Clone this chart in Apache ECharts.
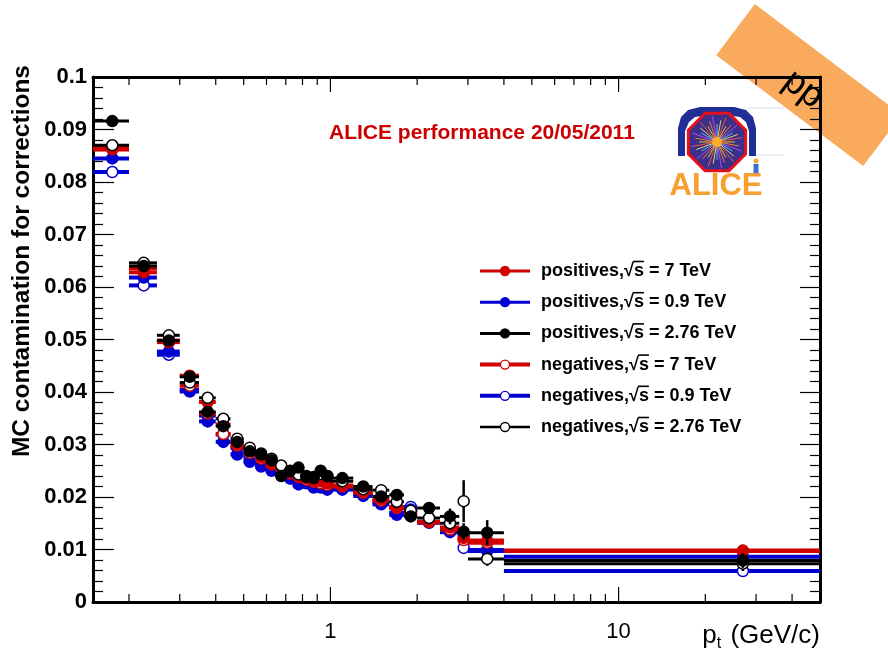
<!DOCTYPE html>
<html>
<head>
<meta charset="utf-8">
<script src="https://cdn.jsdelivr.net/npm/echarts@6/dist/echarts.min.js"></script>
<style>
html, body { margin: 0; padding: 0; background: #fff; }
#chart { width: 888px; height: 658px; }
</style>
</head>
<body>
<div id="chart"></div>
<script>
// pt binning (GeV/c): bin edges and the point placed at each bin centre
const binEdges = [0.15, 0.2, 0.25, 0.3, 0.35, 0.4, 0.45, 0.5, 0.55, 0.6, 0.65, 0.7, 0.75, 0.8,
  0.85, 0.9, 0.95, 1.0, 1.2, 1.4, 1.6, 1.8, 2.0, 2.4, 2.8, 3.0, 4.0, 50];
const ptCenters = [0.175, 0.225, 0.275, 0.325, 0.375, 0.425, 0.475, 0.525, 0.575, 0.625, 0.675,
  0.725, 0.775, 0.825, 0.875, 0.925, 0.975, 1.1, 1.3, 1.5, 1.7, 1.9, 2.2, 2.6, 2.9, 3.5, 27];

// MC contamination, positives and negatives, per collision energy
const pos7 = [0.0862, 0.0628, 0.0495, 0.0431, 0.0381, 0.0338, 0.0301, 0.0289, 0.0276, 0.0263, 0.0256,
  0.0247, 0.0240, 0.0236, 0.0231, 0.0230, 0.0226, 0.0222, 0.0210, 0.0196, 0.0181, 0.0170, 0.0153,
  0.0142, 0.0122, 0.0117, 0.0098];
const pos09 = [0.0845, 0.0618, 0.0477, 0.0401, 0.0344, 0.0305, 0.0281, 0.0267, 0.0258, 0.0250, 0.0246,
  0.0235, 0.0224, 0.0226, 0.0218, 0.0218, 0.0214, 0.0214, 0.0202, 0.0186, 0.0166, 0.0176, 0.0151,
  0.0133, 0.0128, 0.0097, 0.0086];
const pos276 = [0.0916, 0.0640, 0.0498, 0.0429, 0.0362, 0.0335, 0.0305, 0.0287, 0.0281, 0.0270, 0.0240,
  0.0250, 0.0256, 0.0240, 0.0238, 0.0250, 0.0240, 0.0236, 0.0220, 0.0201, 0.0204, 0.0163, 0.0179,
  0.0163, 0.0134, 0.0132, 0.0079];
const neg7 = [0.0865, 0.0636, 0.0498, 0.0412, 0.0359, 0.0320, 0.0298, 0.0284, 0.0273, 0.0262, 0.0254,
  0.0245, 0.0238, 0.0233, 0.0229, 0.0226, 0.0223, 0.0220, 0.0208, 0.0193, 0.0179, 0.0166, 0.0152,
  0.0138, 0.0118, 0.0113, 0.0097];
const neg09 = [0.0819, 0.0603, 0.0471, 0.0404, 0.0355, 0.0319, 0.0294, 0.0275, 0.0265, 0.0254, 0.0252,
  0.0240, 0.0233, 0.0229, 0.0233, 0.0222, 0.0223, 0.0218, 0.0206, 0.0190, 0.0170, 0.0181, 0.0152,
  0.0136, 0.0103, 0.0099, 0.0059];
const neg276 = [0.0870, 0.0646, 0.0508, 0.0418, 0.0389, 0.0349, 0.0311, 0.0294, 0.0283, 0.0273, 0.0260,
  0.0249, 0.0243, 0.0238, 0.0236, 0.0244, 0.0240, 0.0230, 0.0215, 0.0213, 0.0191, 0.0174, 0.0160,
  0.0150, 0.0192, 0.0082, 0.0073];

// statistical errors
const errPos7 = [0.0003, 0.0002, 0.0002, 0.0002, 0.0002, 0.0002, 0.0002, 0.0002, 0.0002, 0.0002, 0.0002,
  0.0002, 0.0002, 0.0002, 0.0002, 0.0002, 0.0002, 0.0002, 0.0002, 0.0003, 0.0003, 0.0003, 0.0003,
  0.0004, 0.0006, 0.0005, 0.0004];
const errPos09 = [0.0004, 0.0003, 0.0003, 0.0003, 0.0003, 0.0003, 0.0003, 0.0003, 0.0003, 0.0003, 0.0003,
  0.0003, 0.0003, 0.0003, 0.0003, 0.0003, 0.0003, 0.0003, 0.0003, 0.0004, 0.0004, 0.0005, 0.0005,
  0.0006, 0.0010, 0.0008, 0.0006];
const errPos276 = [0.0006, 0.0004, 0.0004, 0.0004, 0.0004, 0.0004, 0.0004, 0.0004, 0.0004, 0.0004, 0.0005,
  0.0005, 0.0005, 0.0005, 0.0005, 0.0008, 0.0006, 0.0005, 0.0006, 0.0006, 0.0008, 0.0010, 0.0009,
  0.0015, 0.0016, 0.0024, 0.0014];
const errNeg7 = [0.0003, 0.0002, 0.0002, 0.0002, 0.0002, 0.0002, 0.0002, 0.0002, 0.0002, 0.0002, 0.0002,
  0.0002, 0.0002, 0.0002, 0.0002, 0.0002, 0.0002, 0.0002, 0.0002, 0.0003, 0.0003, 0.0003, 0.0003,
  0.0004, 0.0006, 0.0005, 0.0004];
const errNeg09 = [0.0004, 0.0003, 0.0003, 0.0003, 0.0003, 0.0003, 0.0003, 0.0003, 0.0003, 0.0003, 0.0003,
  0.0003, 0.0003, 0.0003, 0.0003, 0.0003, 0.0003, 0.0003, 0.0003, 0.0004, 0.0004, 0.0005, 0.0005,
  0.0006, 0.0009, 0.0008, 0.0006];
const errNeg276 = [0.0006, 0.0004, 0.0004, 0.0004, 0.0004, 0.0004, 0.0004, 0.0004, 0.0004, 0.0004, 0.0005,
  0.0005, 0.0005, 0.0005, 0.0005, 0.0006, 0.0006, 0.0005, 0.0006, 0.0006, 0.0008, 0.0009, 0.0009,
  0.0012, 0.0040, 0.0013, 0.0014];

const seriesNames = [
  'positives,√s = 7 TeV', 'positives,√s = 0.9 TeV', 'positives,√s = 2.76 TeV',
  'negatives,√s = 7 TeV', 'negatives,√s = 0.9 TeV', 'negatives,√s = 2.76 TeV'
];

// axis ticks
const yTickLabels = ['0', '0.01', '0.02', '0.03', '0.04', '0.05', '0.06', '0.07', '0.08', '0.09', '0.1'];
const xLabelTicks = [1, 10];
const xMinorTicks = [0.2, 0.3, 0.4, 0.5, 0.6, 0.7, 0.8, 0.9, 2, 3, 4, 5, 6, 7, 8, 9, 20, 30, 40, 50];

const RED = '#d00000', BLUE = '#0000d0', BLACK = '#000000';
const FONT = "'Liberation Sans', Arial, Helvetica, sans-serif";
const MARKER_R = 5.5;

function pointSeries(name, values, errors, color, filled, barWidth, errWidth, z) {
  return {
    type: 'custom',
    name: name,
    z: z,
    silent: true,
    data: ptCenters.map((x, i) => [x, values[i], binEdges[i], binEdges[i + 1], errors[i]]),
    encode: { x: 0, y: 1 },
    renderItem: function (params, api) {
      const x = api.value(0), y = api.value(1);
      const lo = api.value(2), hi = api.value(3), e = api.value(4);
      const pL = api.coord([lo, y]), pR = api.coord([hi, y]);
      const pT = api.coord([x, y + e]), pB = api.coord([x, y - e]);
      const p = api.coord([x, y]);
      return {
        type: 'group',
        children: [
          { type: 'line', shape: { x1: pL[0], y1: pL[1], x2: pR[0], y2: pR[1] },
            style: { stroke: color, lineWidth: barWidth } },
          { type: 'line', shape: { x1: pT[0], y1: pT[1], x2: pB[0], y2: pB[1] },
            style: { stroke: color, lineWidth: errWidth } },
          { type: 'circle', shape: { cx: p[0], cy: p[1], r: MARKER_R },
            style: { fill: filled ? color : '#ffffff', stroke: color, lineWidth: 1.5 } }
        ]
      };
    }
  };
}

// log-axis ticks, bottom edge pointing up and top edge pointing down
const xTickData = xLabelTicks.map(v => [v, 0, 15]).concat(xMinorTicks.map(v => [v, 0, 8]));
const tickSeries = {
  type: 'custom',
  silent: true,
  z: 1,
  data: xTickData,
  encode: { x: 0, y: 1 },
  renderItem: function (params, api) {
    const v = api.value(0), len = api.value(2);
    const b = api.coord([v, 0]), t = api.coord([v, 0.1]);
    return {
      type: 'group',
      children: [
        { type: 'line', shape: { x1: b[0], y1: b[1], x2: b[0], y2: b[1] - len },
          style: { stroke: '#000', lineWidth: 1.2 } },
        { type: 'line', shape: { x1: t[0], y1: t[1], x2: t[0], y2: t[1] + len },
          style: { stroke: '#000', lineWidth: 1.2 } }
      ]
    };
  }
};

const chart = echarts.init(document.getElementById('chart'), null, { renderer: 'canvas' });

// legend drawn as graphic rows, text measured so that the root sign gets its bar over "s"
const measureCtx = document.createElement('canvas').getContext('2d');
const legendFont = 'bold 18px ' + FONT;
measureCtx.font = legendFont;
const legendStyle = [
  { color: RED, filled: true, w: 3 }, { color: BLUE, filled: true, w: 3 }, { color: BLACK, filled: true, w: 3 },
  { color: RED, filled: false, w: 4 }, { color: BLUE, filled: false, w: 4 }, { color: BLACK, filled: false, w: 2.5 }
];
const legendChildren = [];
seriesNames.forEach((name, i) => {
  const y = 271 + i * 31.2;
  const st = legendStyle[i];
  legendChildren.push(
    { type: 'line', shape: { x1: 480, y1: y, x2: 530, y2: y }, style: { stroke: st.color, lineWidth: st.w } },
    { type: 'circle', shape: { cx: 505, cy: y, r: 4.5 },
      style: { fill: st.filled ? st.color : '#fff', stroke: st.color, lineWidth: 1.3 } },
    { type: 'text', x: 541, y: y,
      style: { text: name, font: legendFont, fill: '#000', textVerticalAlign: 'middle', textAlign: 'left' } }
  );
  const k = name.indexOf('√');
  const x0 = 541 + measureCtx.measureText(name.slice(0, k + 1)).width - 1;
  const x1 = 541 + measureCtx.measureText(name.slice(0, k + 2)).width;
  legendChildren.push({ type: 'line', shape: { x1: x0, y1: y - 9.5, x2: x1, y2: y - 9.5 },
    style: { stroke: '#000', lineWidth: 1.6 } });
});

// ALICE logo, drawn from simple shapes
const logoCx = 717, logoCy = 142;
const rayColors = ['#ffd21a', '#ff8a1f', '#c64cff', '#4fd0ff', '#ffe45a', '#ff5a3a'];
const archPoints = [[678, 156], [678, 128], [681, 117], [688, 110], [700, 107], [734, 107], [746, 110],
  [753, 117], [756, 128], [756, 156], [749, 156], [749, 131], [746, 122], [740, 117], [733, 116],
  [702, 116], [695, 117], [689, 122], [685, 131], [685, 156]];
const logoChildren = [
  { type: 'line', shape: { x1: 748, y1: 108, x2: 784, y2: 108 }, style: { stroke: '#dcdce8', lineWidth: 1.2 } },
  { type: 'line', shape: { x1: 748, y1: 155, x2: 784, y2: 155 }, style: { stroke: '#dcdce8', lineWidth: 1.2 } },
  { type: 'polygon', shape: { points: archPoints }, style: { fill: '#1f2f96' } },
  { type: 'polygon', shape: { points: [0, 1, 2, 3, 4, 5, 6, 7].map(k => {
      const a = Math.PI / 8 + k * Math.PI / 4;
      return [logoCx + 31 * Math.cos(a), logoCy + 31 * Math.sin(a)];
    }) },
    style: { fill: '#3b2f8c', stroke: '#e3101e', lineWidth: 3 } }
];
for (let k = 0; k < 36; k++) {
  const a = k * Math.PI / 18;
  const r = 18 + (k % 3) * 4;
  logoChildren.push({ type: 'line',
    shape: { x1: logoCx, y1: logoCy, x2: logoCx + r * Math.cos(a), y2: logoCy + r * Math.sin(a) },
    style: { stroke: rayColors[k % rayColors.length], lineWidth: 1, opacity: 0.9 } });
}
logoChildren.push(
  { type: 'circle', shape: { cx: logoCx, cy: logoCy, r: 5 }, style: { fill: '#ffb020', opacity: 0.9 } },
  { type: 'circle', shape: { cx: 756, cy: 161, r: 2.5 }, style: { fill: '#f3a33a' } },
  { type: 'rect', shape: { x: 753.5, y: 164, width: 5, height: 9 }, style: { fill: '#3d6fd0' } },
  { type: 'text', x: 716, y: 186,
    style: { text: 'ALICE', font: 'bold 31px ' + FONT, fill: '#f7a031', textAlign: 'center', textVerticalAlign: 'middle' } }
);

const option = {
  animation: false,
  backgroundColor: '#ffffff',
  grid: { left: 93, right: 68, top: 77, bottom: 56, containLabel: false },
  xAxis: [
    {
      type: 'log', logBase: 10, min: 0.15, max: 50, position: 'bottom',
      axisLine: { show: true, onZero: false, lineStyle: { color: '#000', width: 3 } },
      axisTick: { show: false },
      minorTick: { show: false },
      splitLine: { show: false },
      axisLabel: {
        show: true, margin: 19, color: '#000', fontFamily: FONT, fontSize: 22,
        showMinLabel: true, showMaxLabel: true, hideOverlap: false,
        formatter: function (v) {
          const hit = xLabelTicks.find(t => Math.abs(v - t) < 1e-6 * t);
          return hit !== undefined ? String(hit) : '';
        }
      }
    },
    {
      type: 'log', logBase: 10, min: 0.15, max: 50, position: 'top',
      axisLine: { show: true, onZero: false, lineStyle: { color: '#000', width: 3 } },
      axisTick: { show: false }, axisLabel: { show: false }, splitLine: { show: false }
    }
  ],
  yAxis: [
    {
      type: 'value', min: 0, max: 0.1, interval: 0.01, position: 'left',
      axisLine: { show: true, onZero: false, lineStyle: { color: '#000', width: 3 } },
      axisTick: { show: true, inside: true, length: 21, lineStyle: { color: '#000', width: 1.2 } },
      minorTick: { show: true, splitNumber: 5, length: 10, lineStyle: { color: '#000', width: 1.2 } },
      splitLine: { show: false },
      axisLabel: {
        margin: 6, color: '#000', fontFamily: FONT, fontSize: 22, fontWeight: 'bold',
        showMinLabel: true, showMaxLabel: true,
        formatter: function (v) { return yTickLabels[Math.round(v * 100)]; }
      }
    },
    {
      type: 'value', min: 0, max: 0.1, interval: 0.01, position: 'right',
      axisLine: { show: true, onZero: false, lineStyle: { color: '#000', width: 3 } },
      axisTick: { show: true, inside: true, length: 20, lineStyle: { color: '#000', width: 1.2 } },
      minorTick: { show: true, splitNumber: 5, length: 10, lineStyle: { color: '#000', width: 1.2 } },
      splitLine: { show: false },
      axisLabel: { show: false }
    }
  ],
  series: [
    tickSeries,
    pointSeries(seriesNames[4], neg09, errNeg09, BLUE, false, 4, 2, 2),
    pointSeries(seriesNames[1], pos09, errPos09, BLUE, true, 4, 2, 3),
    pointSeries(seriesNames[3], neg7, errNeg7, RED, false, 4, 2, 4),
    pointSeries(seriesNames[0], pos7, errPos7, RED, true, 4, 2, 5),
    pointSeries(seriesNames[5], neg276, errNeg276, BLACK, false, 3, 2.5, 6),
    pointSeries(seriesNames[2], pos276, errPos276, BLACK, true, 3, 2.5, 7)
  ],
  graphic: [
    { type: 'text', x: 22, y: 65, rotation: Math.PI / 2, z: 10,
      style: { text: 'MC contamination for corrections', font: 'bold 24.5px ' + FONT, fill: '#000',
        textAlign: 'right', textVerticalAlign: 'middle' } },
    { type: 'text', x: 820, y: 636, z: 10,
      style: { text: 'p{s|t} (GeV/c)', font: '26px ' + FONT, fill: '#000', textAlign: 'right', textVerticalAlign: 'middle',
        rich: { s: { font: '16px ' + FONT, fill: '#000', padding: [16, 2, 0, 0] } } } },
    { type: 'text', x: 329, y: 133, z: 10,
      style: { text: 'ALICE performance 20/05/2011', font: 'bold 21px ' + FONT, fill: '#cc0000',
        textAlign: 'left', textVerticalAlign: 'middle' } },
    { type: 'group', z: 10, children: legendChildren },
    { type: 'group', z: 10, children: logoChildren },
    { type: 'group', z: 100, x: 809, y: 85, rotation: -37 * Math.PI / 180, children: [
      { type: 'rect', shape: { x: -92, y: -32, width: 184, height: 64 }, style: { fill: '#f9aa5c' } },
      { type: 'text', x: -2, y: 7,
        style: { text: 'pp', font: '36px ' + FONT, fill: '#000', textAlign: 'center', textVerticalAlign: 'middle' } }
    ] }
  ]
};

chart.setOption(option);
</script>
</body>
</html>
